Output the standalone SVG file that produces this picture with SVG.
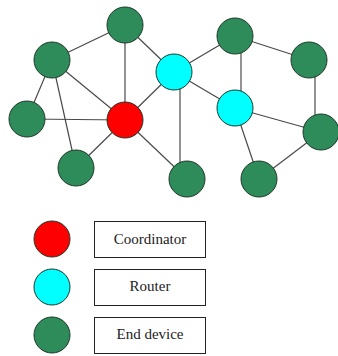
<svg xmlns="http://www.w3.org/2000/svg" width="338" height="356" viewBox="0 0 338 356">
<style>
.e{stroke:#4a4a4a;stroke-width:1.2;fill:none}
.n{stroke:#1f3a2a;stroke-width:1}
.end{fill:#2e8b5a}
.rt{fill:#00ffff}
.co{fill:#ff0000}
.box{fill:#fff;stroke:#222;stroke-width:1}
.t{font-family:"Liberation Serif","DejaVu Serif",serif;font-size:15px;fill:#222;text-anchor:middle}
</style>
<rect width="338" height="356" fill="#fff"/>
<g id="connectors">
<line class="e" x1="125" y1="25" x2="52" y2="60"/>
<line class="e" x1="125" y1="25" x2="125" y2="120"/>
<line class="e" x1="125" y1="25" x2="174" y2="72"/>
<line class="e" x1="52" y1="60" x2="27" y2="119"/>
<line class="e" x1="52" y1="60" x2="76" y2="168"/>
<line class="e" x1="52" y1="60" x2="125" y2="120"/>
<line class="e" x1="27" y1="119" x2="125" y2="120"/>
<line class="e" x1="76" y1="168" x2="125" y2="120"/>
<line class="e" x1="125" y1="120" x2="174" y2="72"/>
<line class="e" x1="125" y1="120" x2="187" y2="179"/>
<line class="e" x1="180" y1="72" x2="180" y2="179"/>
<line class="e" x1="174" y1="72" x2="235" y2="36"/>
<line class="e" x1="174" y1="72" x2="235" y2="108"/>
<line class="e" x1="241" y1="36" x2="241" y2="108"/>
<line class="e" x1="235" y1="36" x2="309" y2="60"/>
<line class="e" x1="315" y1="60" x2="315" y2="132"/>
<line class="e" x1="235" y1="108" x2="321" y2="132"/>
<line class="e" x1="235" y1="108" x2="259" y2="179"/>
<line class="e" x1="259" y1="179" x2="321" y2="132"/>
</g>
<g id="n1"><circle class="n end" cx="125" cy="25" r="18"/></g>
<g id="n2"><circle class="n end" cx="52" cy="60" r="18"/></g>
<g id="n3"><circle class="n end" cx="27" cy="119" r="18"/></g>
<g id="n4"><circle class="n end" cx="76" cy="168" r="18"/></g>
<g id="coordinator"><circle class="n co" cx="125" cy="120" r="18"/></g>
<g id="router1"><circle class="n rt" cx="174" cy="72" r="18"/></g>
<g id="n5"><circle class="n end" cx="187" cy="179" r="18"/></g>
<g id="n6"><circle class="n end" cx="235" cy="36" r="18"/></g>
<g id="n7"><circle class="n end" cx="309" cy="60" r="18"/></g>
<g id="router2"><circle class="n rt" cx="235" cy="108" r="18"/></g>
<g id="n8"><circle class="n end" cx="321" cy="132" r="18"/></g>
<g id="n9"><circle class="n end" cx="259" cy="179" r="18"/></g>
<g id="legend-coordinator">
<circle class="n co" cx="52" cy="239" r="18"/>
<rect class="box" x="94.5" y="221.5" width="111" height="36"/>
<text class="t" x="150" y="244">Coordinator</text>
</g>
<g id="legend-router">
<circle class="n rt" cx="52" cy="287" r="18"/>
<rect class="box" x="94.5" y="269.5" width="111" height="36"/>
<text class="t" x="150" y="291">Router</text>
</g>
<g id="legend-end">
<circle class="n end" cx="52" cy="335" r="18"/>
<rect class="box" x="94.5" y="317.5" width="111" height="36"/>
<text class="t" x="150" y="339">End device</text>
</g>
</svg>
